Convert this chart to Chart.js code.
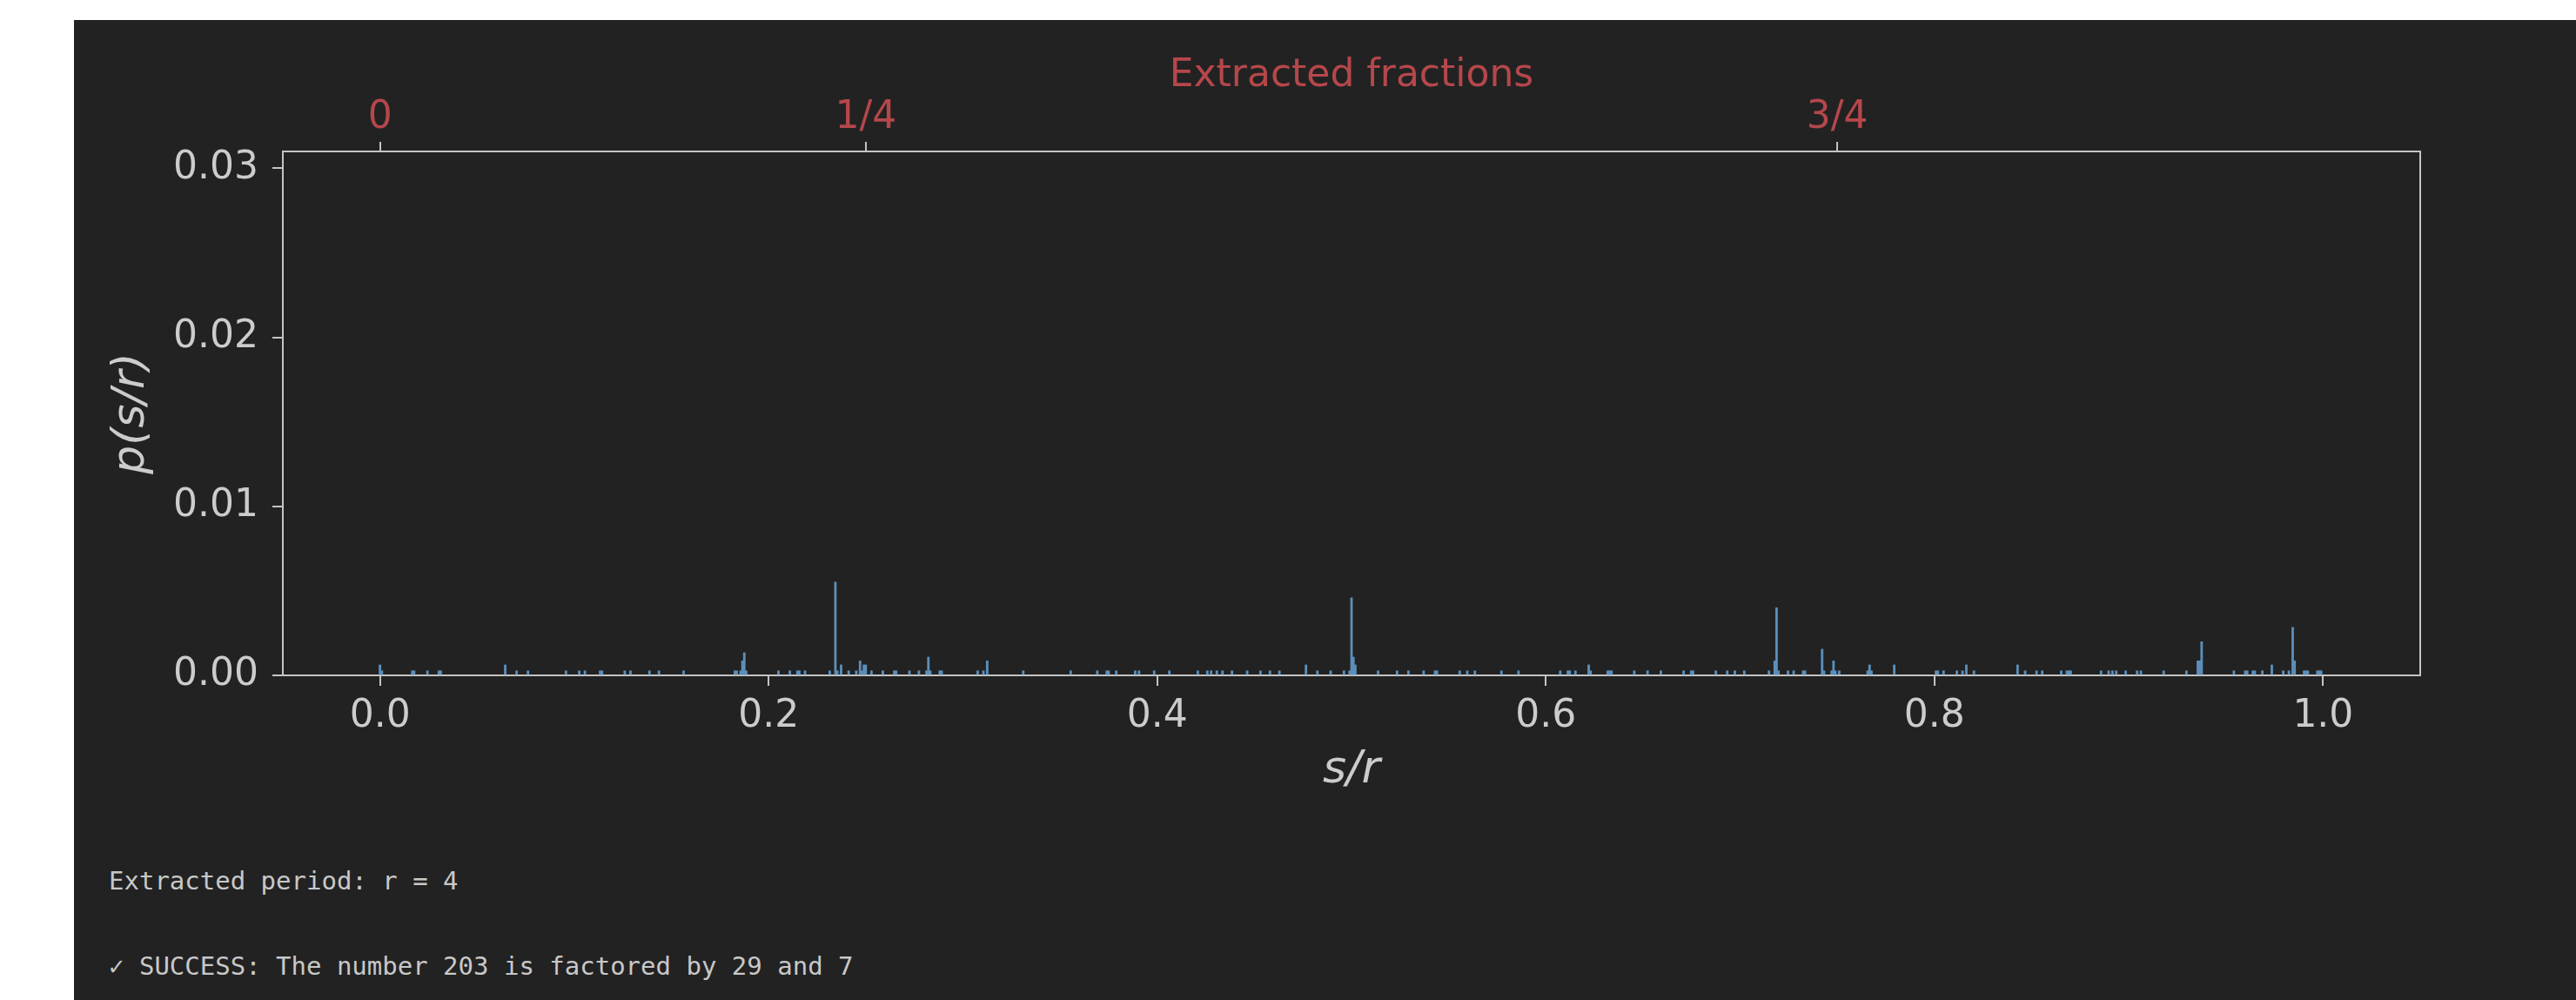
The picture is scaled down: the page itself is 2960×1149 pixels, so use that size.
<!DOCTYPE html>
<html><head><meta charset="utf-8">
<script src="https://cdn.jsdelivr.net/npm/chart.js@4.4.1/dist/chart.umd.min.js"></script>
<style>
html,body{margin:0;padding:0;background:#ffffff;width:2960px;height:1149px;overflow:hidden;}
#panel{position:absolute;left:85px;top:23px;width:2875px;height:1126px;background:#222222;}
#c{position:absolute;left:0;top:0;}
.out{position:absolute;left:40px;font-family:'DejaVu Sans Mono',monospace;font-size:29px;color:#c8c8c8;line-height:29px;white-space:pre;}
</style></head><body>
<div id="panel">
<canvas id="c" width="2875" height="937"></canvas>
<div class="out" style="top:975px">Extracted period: r = 4</div>
<div class="out" style="top:1073px">✓ SUCCESS: The number 203 is factored by 29 and 7</div>
</div>
<script>
// measurement register: s/r = k / 1024
const REGISTER_SIZE = 1024;
const binNumerators = [
  0,1,17,18,25,31,32,66,72,78,98,105,108,116,117,129,132,142,147,160,187,188,190,191,192,193,210,
  216,220,221,224,237,240,241,243,247,251,253,254,255,256,259,265,271,272,279,284,288,289,290,295,296,
  315,318,320,339,364,378,383,384,388,398,400,408,416,431,436,438,441,
  444,449,457,464,469,474,488,494,501,508,511,512,513,514,526,536,542,550,556,557,569,573,577,591,600,
  622,626,627,630,637,638,647,648,649,661,668,
  675,687,691,692,704,710,714,719,732,735,736,737,742,745,750,751,760,761,765,766,767,769,784,785,786,
  798,820,821,824,831,834,836,840,863,867,873,876,886,889,890,891,
  907,911,913,915,920,926,928,940,952,958,959,960,977,983,984,987,988,992,997,1003,1006,1008,1009,
  1014,1015,1016,1021,1022,1023
];
const probabilities = [
  0.00062,0.00027,0.00027,0.00027,0.00027,0.00027,0.00027,0.00062,0.00027,0.00027,0.00027,0.00027,0.00027,0.00027,0.00027,0.00027,0.00027,0.00027,0.00027,0.00027,0.00027,0.00027,0.00027,0.00086,0.00134,0.00027,0.00027,
  0.00027,0.00027,0.00027,0.00027,0.00027,0.00552,0.00027,0.00062,0.00027,0.00027,0.00086,0.00027,0.00062,0.00062,0.00027,0.00027,0.00027,0.00027,0.00027,0.00027,0.00027,0.00108,0.00027,0.00027,0.00027,
  0.00027,0.00027,0.00086,0.00027,0.00027,0.00027,0.00027,0.00027,0.00027,0.00027,0.00027,0.00027,0.00027,0.00027,0.00027,0.00027,0.00027,
  0.00027,0.00027,0.00027,0.00027,0.00027,0.00027,0.00062,0.00027,0.00027,0.00027,0.00027,0.00459,0.00108,0.00062,0.00027,0.00027,0.00027,0.00027,0.00027,0.00027,0.00027,0.00027,0.00027,0.00027,0.00027,
  0.00027,0.00027,0.00027,0.00027,0.00062,0.00027,0.00027,0.00027,0.00027,0.00027,0.00027,
  0.00027,0.00027,0.00027,0.00027,0.00027,0.00027,0.00027,0.00027,0.00027,0.00086,0.00400,0.00027,0.00027,0.00027,0.00027,0.00027,0.00155,0.00027,0.00027,0.00086,0.00027,0.00027,0.00027,0.00062,0.00027,
  0.00062,0.00027,0.00027,0.00027,0.00027,0.00027,0.00062,0.00027,0.00062,0.00027,0.00027,0.00027,0.00027,0.00027,0.00027,0.00027,
  0.00027,0.00027,0.00027,0.00027,0.00027,0.00027,0.00027,0.00027,0.00027,0.00086,0.00086,0.00199,0.00027,0.00027,0.00027,0.00027,0.00027,0.00027,0.00062,0.00027,0.00027,0.00284,0.00086,
  0.00027,0.00027,0.00027,0.00027,0.00027,0.00027
];
const xTickValues = [0, 0.2, 0.4, 0.6, 0.8, 1.0];
const xTickLabels = ['0.0', '0.2', '0.4', '0.6', '0.8', '1.0'];
const yTickValues = [0, 0.01, 0.02, 0.03];
const yTickLabels = ['0.00', '0.01', '0.02', '0.03'];
const fractionTickValues = [0, 0.25, 0.75];
const fractionTickLabels = ['0', '1/4', '3/4'];

const points = binNumerators.map((k, i) => ({x: k / REGISTER_SIZE, y: probabilities[i]}));

const SPINE = '#c4c4c4', TXT = '#cccccc', RED = '#b5474b', BAR = '#5b8fba';
const FONT = 'DejaVu Sans';
const TICK_SIZE = 44, LABEL_SIZE = 52;
const fixTicks = values => scale => { scale.ticks = values.map(v => ({value: v})); };

new Chart(document.getElementById('c').getContext('2d'), {
  type: 'bar',
  data: {datasets: [{data: points, backgroundColor: BAR, borderWidth: 0,
    barPercentage: 1, categoryPercentage: 1, xAxisID: 'x', yAxisID: 'y'}]},
  options: {
    responsive: false, animation: false, devicePixelRatio: 1,
    layout: {padding: {left: 0, right: 179, top: 0, bottom: 0}},
    plugins: {legend: {display: false}, tooltip: {enabled: false}},
    scales: {
      x: {
        type: 'linear', position: 'bottom', min: -0.05, max: 1.05, z: 1, offset: false,
        afterBuildTicks: fixTicks(xTickValues),
        ticks: {callback: (v, i) => xTickLabels[i], color: TXT, font: {family: FONT, size: TICK_SIZE},
          padding: 9, maxRotation: 0, autoSkip: false},
        grid: {offset: false, drawOnChartArea: false, drawTicks: true, tickLength: 12, color: SPINE, lineWidth: 2},
        border: {display: true, color: SPINE, width: 2},
        title: {display: true, text: 's/r', color: TXT,
          font: {family: FONT, size: LABEL_SIZE, style: 'italic'}, padding: {top: 0, bottom: 43}},
        afterFit: s => { s.height = 184; }
      },
      xTop: {
        type: 'linear', position: 'top', min: -0.05, max: 1.05, offset: false,
        afterBuildTicks: fixTicks(fractionTickValues),
        ticks: {callback: (v, i) => fractionTickLabels[i], color: RED, font: {family: FONT, size: TICK_SIZE},
          padding: 1, maxRotation: 0, autoSkip: false},
        grid: {offset: false, drawOnChartArea: false, drawTicks: true, tickLength: 11, color: SPINE, lineWidth: 2},
        border: {display: true, color: SPINE, width: 2},
        title: {display: true, text: 'Extracted fractions', color: RED,
          font: {family: FONT, size: TICK_SIZE}, padding: {top: 38, bottom: 0}},
        afterFit: s => { s.height = 151; }
      },
      y: {
        type: 'linear', position: 'left', min: 0, max: 0.031, offset: false,
        afterBuildTicks: fixTicks(yTickValues),
        ticks: {callback: (v, i) => yTickLabels[i], color: TXT, font: {family: FONT, size: TICK_SIZE}, padding: 16},
        grid: {offset: false, drawOnChartArea: false, drawTicks: true, tickLength: 12, color: SPINE, lineWidth: 2},
        border: {display: true, color: SPINE, width: 2},
        title: {display: true, text: 'p(s/r)', color: TXT,
          font: {family: FONT, size: LABEL_SIZE, style: 'italic'}, padding: {top: 35, bottom: 0}},
        afterFit: s => { s.width = 240; }
      },
      yRight: {
        type: 'linear', position: 'right', min: 0, max: 0.031, offset: false,
        ticks: {display: false},
        grid: {display: false, drawTicks: false},
        border: {display: true, color: SPINE, width: 2},
        afterFit: s => { s.width = 0; }
      }
    }
  }
});
</script>
</body></html>
